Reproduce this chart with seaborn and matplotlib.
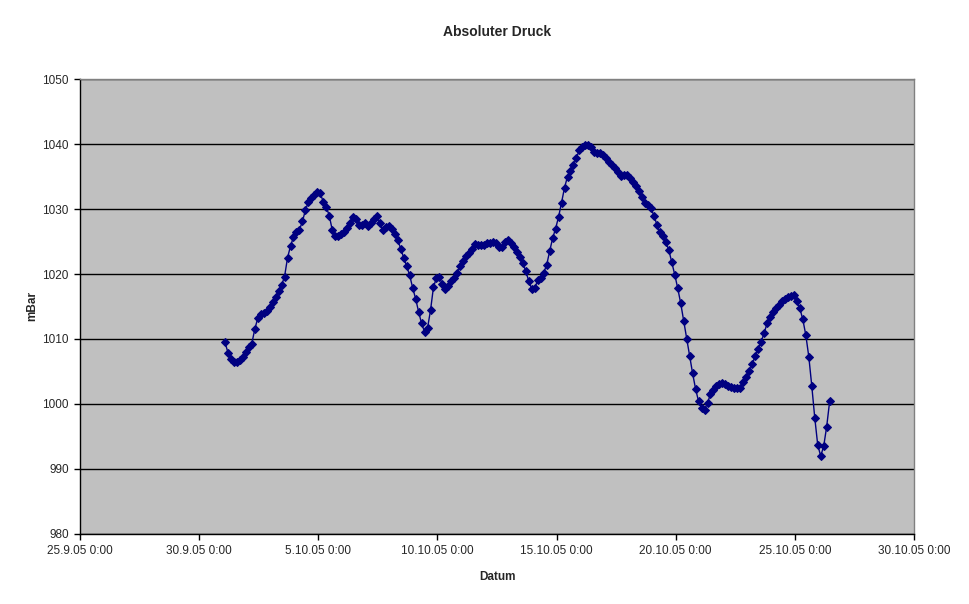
import pandas as pd
import matplotlib
matplotlib.use('Agg')
import matplotlib.pyplot as plt
import matplotlib.dates as mdates
from matplotlib.ticker import FuncFormatter
import seaborn as sns

# Messreihe: Startzeit, Abstand und Werte (mBar)
start_time = '2005-10-01 02:00'
step = '3h'
pressure = [
    1009.5, 1007.9, 1006.9, 1006.5, 1006.4, 1006.8, 1007.3, 1008.0, 1008.7, 1009.3,
    1011.5, 1013.2, 1013.9, 1014.0, 1014.3, 1014.9, 1015.7, 1016.5, 1017.4, 1018.3,
    1019.6, 1022.5, 1024.3, 1025.7, 1026.5, 1026.8, 1028.1, 1029.8, 1031.1, 1031.7,
    1032.2, 1032.6, 1032.4, 1031.1, 1030.3, 1029.0, 1026.8, 1025.8, 1025.8, 1026.1,
    1026.5, 1027.1, 1027.9, 1028.8, 1028.4, 1027.6, 1027.5, 1027.8, 1027.4, 1027.8,
    1028.5, 1029.0, 1027.8, 1026.7, 1027.2, 1027.4, 1026.9, 1026.2, 1025.2, 1023.9,
    1022.5, 1021.2, 1019.8, 1017.9, 1016.2, 1014.2, 1012.4, 1011.1, 1011.7, 1014.4,
    1018.0, 1019.4, 1019.5, 1018.4, 1017.7, 1018.2, 1018.9, 1019.4, 1020.2, 1021.2,
    1022.0, 1022.7, 1023.3, 1023.9, 1024.6, 1024.4, 1024.4, 1024.5, 1024.7, 1024.8,
    1024.9, 1024.8, 1024.2, 1024.1, 1025.0, 1025.3, 1024.8, 1024.1, 1023.4, 1022.6,
    1021.7, 1020.4, 1018.9, 1017.7, 1017.8, 1019.1, 1019.4, 1020.2, 1021.4, 1023.5,
    1025.5, 1027.0, 1028.8, 1031.0, 1033.3, 1035.0, 1035.9, 1036.8, 1037.9, 1039.1,
    1039.5, 1039.8, 1039.8, 1039.6, 1038.8, 1038.6, 1038.6, 1038.3, 1037.8, 1037.3,
    1036.8, 1036.3, 1035.7, 1035.1, 1035.2, 1035.2, 1034.7, 1034.2, 1033.5, 1032.7,
    1031.8, 1030.9, 1030.6, 1030.1, 1029.0, 1027.6, 1026.4, 1025.8, 1024.9, 1023.7,
    1021.8, 1019.9, 1017.8, 1015.5, 1012.8, 1010.0, 1007.4, 1004.7, 1002.3, 1000.4,
    999.4, 999.1, 1000.2, 1001.5, 1002.2, 1002.8, 1003.1, 1003.3, 1003.1, 1002.8,
    1002.6, 1002.5, 1002.5, 1002.5, 1003.4, 1004.2, 1005.0, 1006.1, 1007.4, 1008.4,
    1009.6, 1010.9, 1012.4, 1013.4, 1014.2, 1014.7, 1015.3, 1015.8, 1016.2, 1016.5,
    1016.6, 1016.8, 1015.9, 1014.7, 1013.0, 1010.6, 1007.3, 1002.8, 997.9, 993.7,
    992.0, 993.5, 996.5, 1000.4,
]

x_start = '2005-09-25'
x_end = '2005-10-30'
x_tick_step = '5D'
y_ticks = [980, 990, 1000, 1010, 1020, 1030, 1040, 1050]

df = pd.DataFrame({
    'Datum': pd.date_range(start_time, periods=len(pressure), freq=step),
    'mBar': pressure,
})

sns.set_style('white')
plt.rcParams['font.family'] = ['Liberation Sans', 'DejaVu Sans']

fig = plt.figure(figsize=(9.7, 6.04), dpi=100)
ax = fig.add_axes([0.0825, 0.1159, 0.8598, 0.7533])
ax.set_facecolor('#C0C0C0')

sns.lineplot(data=df, x='Datum', y='mBar', ax=ax, color='#000080',
             linewidth=1, marker='D', markersize=4.5,
             markeredgecolor='#000080', markerfacecolor='#000080')

ax.set_xlim(pd.Timestamp(x_start), pd.Timestamp(x_end))
ax.set_ylim(y_ticks[0], y_ticks[-1])
ax.set_yticks(y_ticks)
ax.yaxis.grid(True, color='black', linewidth=1)
ax.xaxis.grid(False)
ax.set_axisbelow(True)

ax.set_xticks(pd.date_range(x_start, x_end, freq=x_tick_step))
def fmt_date(v, pos):
    d = mdates.num2date(v)
    return f"{d.day}.{d.month}.{d.strftime('%y')} {d.hour}:{d.minute:02d}"
ax.xaxis.set_major_formatter(FuncFormatter(fmt_date))

for side in ['top', 'right']:
    ax.spines[side].set_color('#808080')
    ax.spines[side].set_linewidth(1)
for side in ['left', 'bottom']:
    ax.spines[side].set_color('black')
    ax.spines[side].set_linewidth(1)

ax.tick_params(axis='both', direction='out', length=4, width=1, color='black',
               labelsize=8.5, pad=4, bottom=True, left=True)

ax.set_title('Absoluter Druck', fontsize=10, fontweight='bold', pad=31)
ax.set_xlabel('Datum', fontsize=8.5, fontweight='bold', labelpad=10)
ax.set_ylabel('mBar', fontsize=8.5, fontweight='bold', labelpad=3)

fig.patch.set_facecolor('white')
plt.savefig('out.png', dpi=100)
plt.close()
